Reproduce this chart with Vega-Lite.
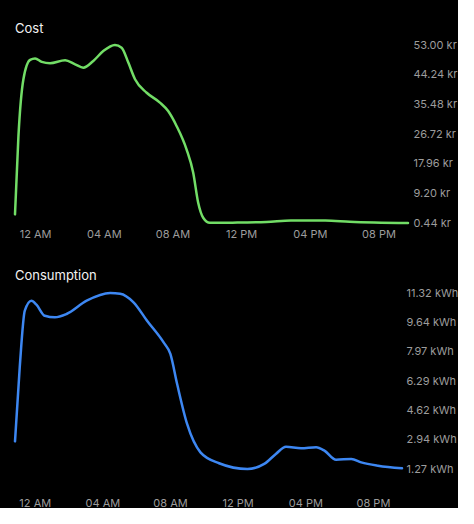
{
  "$schema": "https://vega.github.io/schema/vega-lite/v6.json",
  "background": "black",
  "padding": {"left": 10, "top": 23, "right": 0, "bottom": 0},
  "spacing": 31,
  "config": {
    "view": {"stroke": null},
    "font": "Inter",
    "axis": {"domain": false, "ticks": false, "grid": false, "labelColor": "#9c9c9c", "labelFontSize": 11, "title": null, "labelOverlap": false, "labelBound": false},
    "title": {"color": "#f2f2f2", "fontSize": 13, "fontWeight": "normal", "anchor": "start", "frame": "group", "font": "Inter"}
  },
  "datasets": {
    "cost": [
      {"h": -1.17, "v": 3.0},
      {"h": -0.97, "v": 26.1},
      {"h": -0.68, "v": 42.9},
      {"h": -0.29, "v": 48.6},
      {"h": 0.0, "v": 49.0},
      {"h": 0.39, "v": 48.0},
      {"h": 0.87, "v": 47.6},
      {"h": 1.75, "v": 48.5},
      {"h": 2.33, "v": 47.3},
      {"h": 2.81, "v": 46.3},
      {"h": 3.39, "v": 48.3},
      {"h": 3.97, "v": 51.2},
      {"h": 4.65, "v": 53.0},
      {"h": 5.04, "v": 52.2},
      {"h": 5.43, "v": 47.8},
      {"h": 5.82, "v": 42.9},
      {"h": 6.5, "v": 38.9},
      {"h": 7.27, "v": 36.0},
      {"h": 7.75, "v": 33.5},
      {"h": 8.24, "v": 29.1},
      {"h": 8.82, "v": 22.2},
      {"h": 9.21, "v": 15.3},
      {"h": 9.5, "v": 6.4},
      {"h": 9.79, "v": 2.0},
      {"h": 10.18, "v": 0.5},
      {"h": 11.5, "v": 0.55},
      {"h": 13.48, "v": 0.74},
      {"h": 14.9, "v": 1.2},
      {"h": 16.9, "v": 1.2},
      {"h": 18.32, "v": 0.82},
      {"h": 21.72, "v": 0.44}
    ],
    "cons": [
      {"h": -1.17, "v": 2.85},
      {"h": -0.89, "v": 7.08},
      {"h": -0.59, "v": 10.31},
      {"h": -0.2, "v": 10.88},
      {"h": 0.1, "v": 10.65},
      {"h": 0.59, "v": 10.02},
      {"h": 1.19, "v": 9.93},
      {"h": 1.88, "v": 10.12},
      {"h": 3.07, "v": 10.88},
      {"h": 4.46, "v": 11.32},
      {"h": 5.05, "v": 11.28},
      {"h": 5.84, "v": 10.79},
      {"h": 6.64, "v": 9.74},
      {"h": 7.62, "v": 8.5},
      {"h": 8.02, "v": 7.84},
      {"h": 8.42, "v": 6.12},
      {"h": 9.01, "v": 3.84},
      {"h": 9.8, "v": 2.22},
      {"h": 10.9, "v": 1.6},
      {"h": 12.58, "v": 1.27},
      {"h": 13.57, "v": 1.56},
      {"h": 14.26, "v": 2.13},
      {"h": 14.86, "v": 2.54},
      {"h": 15.75, "v": 2.45},
      {"h": 16.64, "v": 2.51},
      {"h": 17.13, "v": 2.32},
      {"h": 17.82, "v": 1.8},
      {"h": 18.72, "v": 1.84},
      {"h": 19.31, "v": 1.65},
      {"h": 20.3, "v": 1.46},
      {"h": 21.72, "v": 1.31}
    ]
  },
  "vconcat": [
    {
      "title": {"text": "Cost", "offset": 3},
      "width": 393,
      "height": 178,
      "data": {"name": "cost"},
      "mark": {"type": "line", "interpolate": "monotone", "color": "#72dd66", "strokeWidth": 2.5, "strokeCap": "round"},
      "encoding": {
        "x": {"field": "h", "type": "quantitative", "scale": {"domain": [-1.17, 21.72], "nice": false, "zero": false},
          "axis": {"values": [0, 4, 8, 12, 16, 20], "labelExpr": "['12 AM','04 AM','08 AM','12 PM','04 PM','08 PM'][datum.value/4]", "labelPadding": 5, "labelFlush": false}},
        "y": {"field": "v", "type": "quantitative", "scale": {"domain": [0.44, 53], "nice": false, "zero": false},
          "axis": {"orient": "right", "values": [53, 44.24, 35.48, 26.72, 17.96, 9.2, 0.44], "labelExpr": "format(datum.value, '.2f') + ' kr'", "labelPadding": 5}}
      }
    },
    {
      "title": {"text": "Consumption", "offset": 4},
      "width": 387,
      "height": 176,
      "data": {"name": "cons"},
      "mark": {"type": "line", "interpolate": "monotone", "color": "#3d87f2", "strokeWidth": 2.5, "strokeCap": "round"},
      "encoding": {
        "x": {"field": "h", "type": "quantitative", "scale": {"domain": [-1.17, 21.72], "nice": false, "zero": false},
          "axis": {"values": [0, 4, 8, 12, 16, 20], "labelExpr": "['12 AM','04 AM','08 AM','12 PM','04 PM','08 PM'][datum.value/4]", "labelPadding": 28, "labelFlush": false}},
        "y": {"field": "v", "type": "quantitative", "scale": {"domain": [1.27, 11.32], "nice": false, "zero": false},
          "axis": {"orient": "right", "values": [11.32, 9.64, 7.97, 6.29, 4.62, 2.94, 1.27], "labelExpr": "format(datum.value, '.2f') + ' kWh'", "labelPadding": 4}}
      }
    }
  ]
}
